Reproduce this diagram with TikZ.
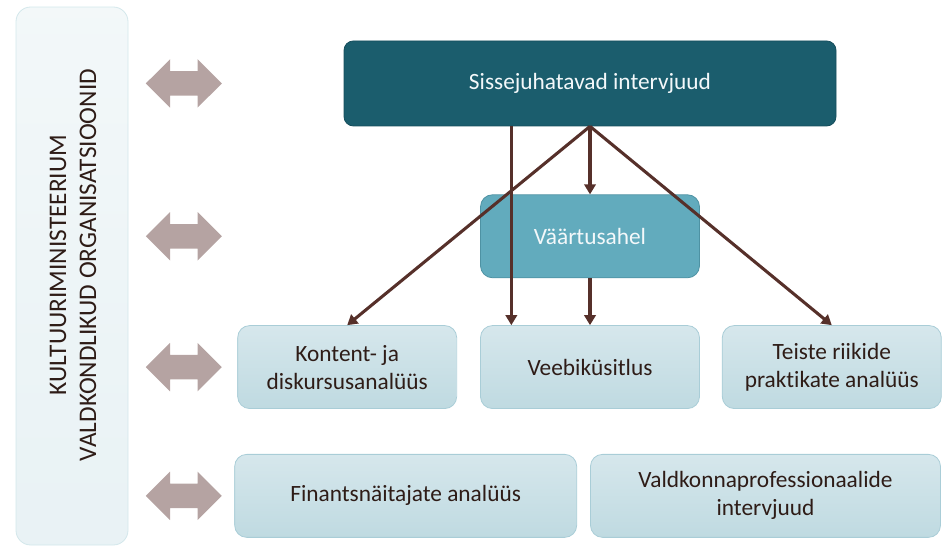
\documentclass[tikz,border=0pt]{standalone}
\usepackage{fontspec}
\setmainfont[Ligatures=NoCommon]{Carlito}
\usetikzlibrary{positioning,shapes.arrows,arrows.meta}

\definecolor{deepteal}{HTML}{1B5D6D}
\definecolor{deeptealrim}{HTML}{164E5C}
\definecolor{midteal}{HTML}{62ABBD}
\definecolor{midtealrim}{HTML}{4E92A3}
\definecolor{paletop}{HTML}{D6E7EC}
\definecolor{palebot}{HTML}{BFDAE1}
\definecolor{palerim}{HTML}{A9CDD7}
\definecolor{panelrim}{HTML}{D3E7EB}
\definecolor{linkbrown}{HTML}{56302A}
\definecolor{twowaygrey}{HTML}{B5A3A2}
\definecolor{inkbrown}{HTML}{2E1C17}

\tikzset{
  boxfont/.style={font=\fontsize{17.5}{21}\selectfont},
  lead box/.style={boxfont, draw=deeptealrim, fill=deepteal, text=white!92!midteal, rounded corners=7pt,
    line width=0.6pt, minimum width=369pt, minimum height=63.75pt},
  chain box/.style={boxfont, draw=midtealrim, fill=midteal, text=white!92!midteal, rounded corners=9pt,
    line width=0.6pt, minimum width=164.25pt, minimum height=62.25pt},
  task box/.style={boxfont, draw=palerim, top color=paletop, bottom color=palebot, text=inkbrown,
    rounded corners=9pt, line width=0.6pt, align=center, minimum width=164.25pt, minimum height=62.25pt},
  side panel/.style={draw=panelrim, top color=white!70!paletop, bottom color=white!45!paletop,
    rounded corners=11pt, line width=0.6pt, minimum width=84pt, minimum height=403.5pt},
  twoway/.style={double arrow, fill=twowaygrey, inner xsep=0pt, inner ysep=9pt, minimum height=57pt,
    double arrow head extend=9pt},
  link/.style={draw=linkbrown, line width=2.3pt, -{Triangle[length=7.5pt,width=8.5pt]}}
}

\begin{document}
\begin{tikzpicture}
\useasboundingbox (0,0) rectangle (712.5pt,-409.5pt);

\node[side panel] (panel) at (54pt,-207pt) {};
\node[rotate=90, align=center, text=inkbrown, font=\fontsize{19}{22.5}\selectfont]
  (owners) at (54.75pt,-198.75pt) {KULTUURIMINISTEERIUM\\VALDKONDLIKUD ORGANISATSIOONID};

\node[lead box] (intro) at (442.5pt,-62.6pt) {Sissejuhatavad intervjuud};
\node[chain box, below=51pt of intro] (chain) {Väärtusahel};
\node[task box, below=35.25pt of chain] (survey) {Veebiküsitlus};
\node[task box, left=17.25pt of survey] (content) {Kontent- ja\\diskursusanalüüs};
\node[task box, right=16.5pt of survey] (abroad) {Teiste riikide\\praktikate analüüs};
\node[task box, minimum width=256.5pt, below right=33.75pt and -2.25pt of content.south west]
  (finance) {Finantsnäitajate analüüs};
\node[task box, minimum width=262.5pt, right=9.75pt of finance] (experts) {Valdkonnaprofessionaalide\\intervjuud};

\node[twoway, anchor=west, xshift=12.75pt] (tw1) at (panel.east |- intro) {};
\node[twoway, anchor=west, xshift=12.75pt] (tw2) at (panel.east |- chain) {};
\node[twoway, anchor=west, xshift=12.75pt] (tw3) at (panel.east |- survey) {};
\node[twoway, anchor=west, xshift=12.75pt] (tw4) at (panel.east |- finance) {};

\coordinate[xshift=-59pt] (skip) at (survey.north);
\draw[link] (skip |- intro.south) -- (skip);
\draw[link] (intro.south) -- (chain.north);
\draw[link] (intro.south) -- (content.north);
\draw[link] (intro.south) -- (abroad.north);
\draw[link] (chain.south) -- (survey.north);
\end{tikzpicture}
\end{document}
